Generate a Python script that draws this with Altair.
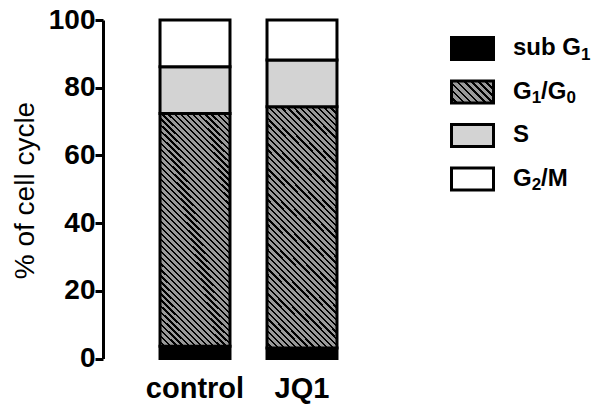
import math
import altair as alt
import pandas as pd

# ---- data ----
groups = ["control", "JQ1"]
phases = ["sub G1", "G1/G0", "S", "G2/M"]
control_vals = [3.6, 68.8, 13.8, 13.8]
jq1_vals = [3.1, 71.3, 13.8, 11.8]
y_ticks = [0, 20, 40, 60, 80, 100]

rows = []
for g, vals in zip(groups, [control_vals, jq1_vals]):
    for i, (p, v) in enumerate(zip(phases, vals)):
        rows.append({"group": g, "phase": p, "order": i, "value": v})
df = pd.DataFrame(rows)
leg = pd.DataFrame({"phase": phases})

FONT = "Liberation Sans"
MAIN_FS = 24
SUB_FS = 17

# Arial/Liberation Sans Bold advance widths (per 1000 em)
ADV = {"s": 556, "u": 611, "b": 611, " ": 278, "G": 778, "/": 278, "M": 833,
       "S": 667, "0": 556, "1": 556, "2": 556}


def tw(t, fs):
    return sum(ADV[c] for c in t) / 1000 * fs


# legend labels split into normal text and subscript pieces
pieces = {
    "sub G1": [("sub G", 0), ("1", 1)],
    "G1/G0": [("G", 0), ("1", 1), ("/G", 0), ("0", 1)],
    "S": [("S", 0)],
    "G2/M": [("G", 0), ("2", 1), ("/M", 0)],
}
main_rows, sub_rows = [], []
for p in phases:
    x = 0.0
    for t, is_sub in pieces[p]:
        if is_sub:
            sub_rows.append({"phase": p, "text": t, "xpos": x})
            x += tw(t, SUB_FS)
        else:
            main_rows.append({"phase": p, "text": t, "xpos": x})
            x += tw(t, MAIN_FS)
leg_main = pd.DataFrame(main_rows)
leg_sub = pd.DataFrame(sub_rows)


def hatch(W, H, period, dark_frac, light="#999999", dark="#000000"):
    s = (W + H) / (W * W + H * H)
    extent = (W + H) / math.sqrt(2)
    n = max(1, round(extent / period))
    stops = []
    for k in range(n):
        a = k / n
        b = (k + 1 - dark_frac) / n
        c = (k + 1) / n
        stops += [
            {"offset": a, "color": light},
            {"offset": b, "color": light},
            {"offset": b, "color": dark},
            {"offset": c, "color": dark},
        ]
    return {"gradient": "linear", "x1": 0, "y1": 1, "x2": s * W, "y2": 1 - s * H, "stops": stops}


bar_hatch = hatch(70, 237, 4.3, 0.37)
leg_hatch = hatch(42, 22, 5.0, 0.38)

solid_colors = ["#000000", "#999999", "#d3d3d3", "#ffffff"]

bars = alt.Chart(df).mark_bar(stroke="black", strokeWidth=3).encode(
    x=alt.X(
        "group:N",
        sort=groups,
        scale=alt.Scale(paddingInner=0.346, paddingOuter=0.533),
        axis=alt.Axis(
            title=None, domain=False, ticks=False, labelAngle=0,
            labelFont=FONT, labelFontSize=29, labelFontWeight="bold",
            labelColor="black", labelPadding=16,
        ),
    ),
    y=alt.Y(
        "value:Q",
        stack="zero",
        scale=alt.Scale(domain=[0, 100], nice=False),
        axis=alt.Axis(
            values=y_ticks, title="% of cell cycle", grid=False,
            domainColor="black", domainWidth=3, tickColor="black", tickWidth=3,
            tickSize=8, labelPadding=0, labelFont=FONT, labelFontSize=28,
            labelFontWeight="bold", labelColor="black",
            titleFont=FONT, titleFontSize=28, titleFontWeight="normal",
            titleColor="black", titleX=-70, titleY=170, titleAngle=270,
            titleBaseline="alphabetic", titleAlign="center",
        ),
    ),
    order=alt.Order("order:Q"),
    fill=alt.condition(
        alt.datum.phase == "G1/G0",
        alt.value(bar_hatch),
        alt.Fill("phase:N", scale=alt.Scale(domain=phases, range=solid_colors), legend=None),
    ),
)

leg_y = alt.Y(
    "phase:N",
    scale=alt.Scale(type="point", domain=phases, range=[28.5, 159], padding=0),
    axis=None,
)
leg_x = alt.X(
    "xpos:Q",
    scale=alt.Scale(domain=[0, 100], range=[410, 510], nice=False, zero=False),
    axis=None,
)

rect_path = "M-1,-0.524L1,-0.524L1,0.524L-1,0.524Z"
leg_sym = alt.Chart(leg).mark_point(
    shape=rect_path, size=1764, stroke="black", strokeWidth=3, filled=True, opacity=1
).encode(
    x=alt.value(369.5),
    y=leg_y,
    fill=alt.condition(
        alt.datum.phase == "G1/G0",
        alt.value(leg_hatch),
        alt.Fill("phase:N", scale=alt.Scale(domain=phases, range=solid_colors), legend=None),
    ),
)

leg_txt = alt.Chart(leg_main).mark_text(
    align="left", baseline="alphabetic", font=FONT, fontSize=MAIN_FS, fontWeight="bold",
    color="black", dy=6.5,
).encode(x=leg_x, y=leg_y, text="text:N")

leg_subtxt = alt.Chart(leg_sub).mark_text(
    align="left", baseline="alphabetic", font=FONT, fontSize=SUB_FS, fontWeight="bold",
    color="black", dy=11,
).encode(x=leg_x, y=leg_y, text="text:N")

chart = (
    alt.layer(bars, alt.layer(leg_sym, leg_txt, leg_subtxt))
    .resolve_scale(x="independent", y="independent", fill="independent")
    .properties(
        width=291,
        height=338.5,
        autosize=alt.AutoSizeParams(type="none"),
        padding={"left": 95, "top": 12, "right": 200, "bottom": 45},
    )
    .configure_view(stroke=None)
)

chart.save("out.html", embed_options={"renderer": "svg", "actions": False})
